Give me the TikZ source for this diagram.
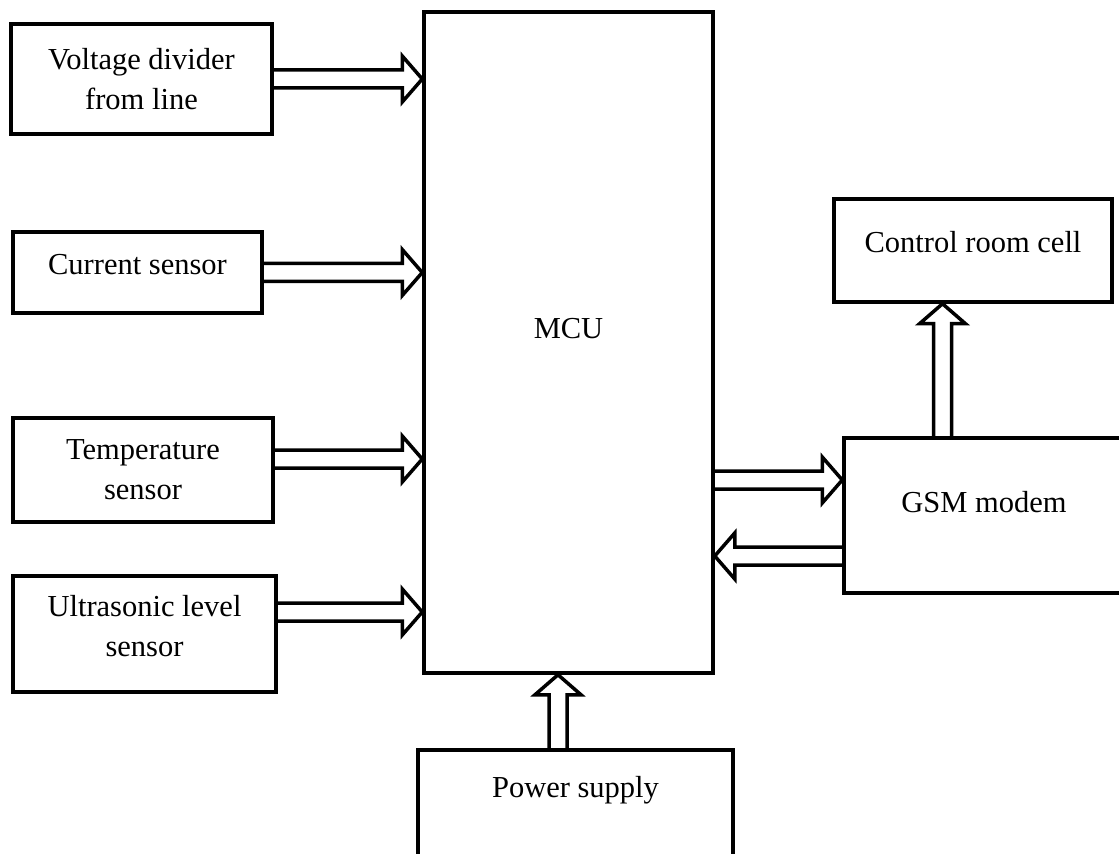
\documentclass[tikz,border=0pt]{standalone}
\usepackage{fontspec}
\setmainfont{Liberation Serif}
\usetikzlibrary{calc}
\newcommand{\lift}[2]{\raisebox{#1}[\height][\depth]{#2}}

\begin{document}
\begin{tikzpicture}[x=0.5pt,y=0.5pt,
        block/.style={draw,line width=1.75pt,align=center,inner sep=0pt,
                font=\fontsize{15.25}{20}\selectfont},
        pipe/.style={draw,line width=1.75pt,line join=miter,to path={
                ($(\tikztotarget)!10pt!(\tikztostart)$) coordinate (neck)
                ($(\tikztostart)!4.5pt!90:(\tikztotarget)$)
                -- ($(neck)!4.5pt!90:(\tikztotarget)$)
                -- ($(neck)!11.5pt!90:(\tikztotarget)$)
                -- (\tikztotarget)
                -- ($(neck)!11.5pt!-90:(\tikztotarget)$)
                -- ($(neck)!4.5pt!-90:(\tikztotarget)$)
                -- ($(\tikztostart)!4.5pt!-90:(\tikztotarget)$)}}]
        \useasboundingbox (0,0) rectangle (1119,853);
        \node[block,minimum width=130.5pt,minimum height=55pt] (volt) at (141.5,774) {Voltage divider\\from line};
        \node[block,minimum width=124.5pt,minimum height=40.5pt] (curr) at (137.5,580.5) {\lift{4pt}{Current sensor}};
        \node[block,minimum width=130pt,minimum height=52pt] (temp) at (143,383) {Temperature\\sensor};
        \node[block,minimum width=131.5pt,minimum height=58pt] (ultra) at (144.5,219)
                {\lift{3pt}{\begin{tabular}{@{}c@{}}Ultrasonic level\\sensor\end{tabular}}};
        \node[block,minimum width=144.5pt,minimum height=330.5pt] (mcu) at (568.5,510.5) {\lift{7pt}{MCU}};
        \node[block,minimum width=139pt,minimum height=51.5pt] (ctrl) at (973,602.5) {\lift{4pt}{Control room cell}};
        \node[block,minimum width=140pt,minimum height=77.5pt] (gsm) at (984,337.5) {\lift{6.5pt}{GSM modem}};
        \node[block,minimum width=157.5pt,minimum height=54pt] (power) at (575.5,49) {\lift{7pt}{Power supply}};
        \coordinate (tempout) at ([yshift=5.5pt]temp.east);
        \coordinate (ultraout) at ([yshift=11pt]ultra.east);
        \coordinate (gsmin) at ([yshift=17.75pt]gsm.west);
        \coordinate (gsmout) at ([yshift=-20.25pt]gsm.west);
        \coordinate (gsmup) at ([xshift=-20.75pt]gsm.north);
        \coordinate (pwrup) at ([xshift=-8.75pt]power.north);
        \path[pipe] (volt.east) to (volt.east -| mcu.west);
        \path[pipe] (curr.east) to (curr.east -| mcu.west);
        \path[pipe] (tempout) to (tempout -| mcu.west);
        \path[pipe] (ultraout) to (ultraout -| mcu.west);
        \path[pipe] (gsmin -| mcu.east) to (gsmin);
        \path[pipe] (gsmout) to (gsmout -| mcu.east);
        \path[pipe] (gsmup) to (gsmup |- ctrl.south);
        \path[pipe] (pwrup) to (pwrup |- mcu.south);
\end{tikzpicture}
\end{document}
